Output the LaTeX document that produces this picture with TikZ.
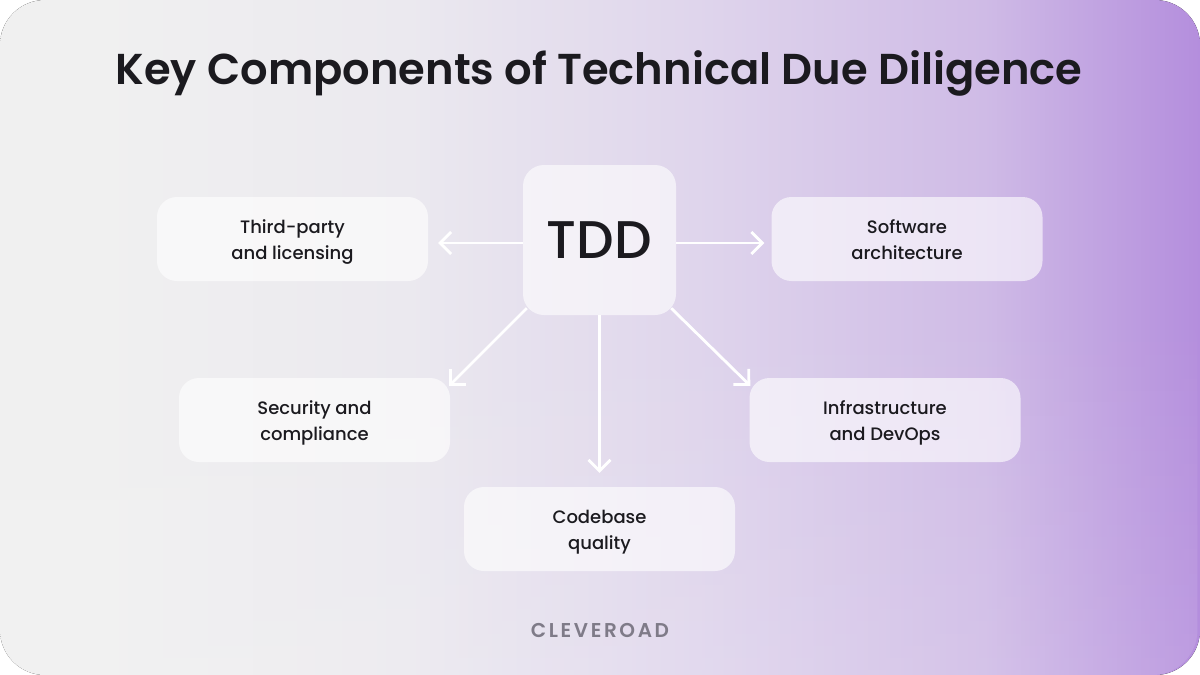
\documentclass[tikz,border=0pt]{standalone}
\usepackage{fontspec}
\setmainfont{Poppins Medium}
\newfontfamily\titlefont{Poppins SemiBold}
\usetikzlibrary{arrows,arrows.meta,calc,fadings}
\definecolor{ink}{HTML}{1B1A1F}
\definecolor{logogray}{HTML}{7F7B88}
\definecolor{s0}{HTML}{F0F0F0}
\definecolor{s1}{HTML}{EBE9EF}
\definecolor{s2}{HTML}{DFD5EC}
\definecolor{s3}{HTML}{CFBBE6}
\definecolor{s4}{HTML}{B48EDD}
\pgfdeclarehorizontalshading{tddfade}{100bp}{
  color(0bp)=(s0); color(29bp)=(s0); color(42bp)=(s1);
  color(54bp)=(s2); color(66bp)=(s3); color(75bp)=(s4); color(100bp)=(s4)}
\newcommand{\twolines}[2]{\raisebox{-6.5pt}[0pt][0pt]{\begin{tabular}{@{}c@{}}#1\\#2\end{tabular}}}
\tikzset{
  panel/.style={draw=none,fill=white,fill opacity=.62,text opacity=1,rounded corners=20pt,
    minimum width=271pt,minimum height=84pt,align=center,text=ink,
    font=\fontsize{18}{26}\selectfont,inner sep=0pt},
  hub/.style={panel,minimum width=153pt,minimum height=150pt,fill opacity=.6,rounded corners=21pt,
    font=\fontsize{53}{60}\selectfont},
  link/.style={draw=white,line width=2.8pt,-{Straight Barb[length=11pt,width=22pt,line width=2.8pt]}}
}
\begin{document}
\begin{tikzpicture}[x=1pt,y=-1pt]

\useasboundingbox (0,0) rectangle (1200,675);
\fill[white] (0,0) rectangle (1200,675);
\fill[rounded corners=45pt,shading=tddfade] (0,0) rectangle (1200,675);
\fill[rounded corners=45pt,white,opacity=.12,path fading=north] (0,300) rectangle (1200,675);

\node[text=ink,font=\titlefont\fontsize{43.2}{50}\selectfont] (title) at (599,73.5) {Key Components of Technical Due Diligence};

\node[hub] (tdd) at (599.5,240) {TDD};
\node[panel] (third) at (292.5,239) {\twolines{Third-party}{and licensing}};
\node[panel] (soft) at (907,239) {\twolines{Software}{architecture}};
\node[panel] (secure) at (314.5,420) {\twolines{Security and}{compliance}};
\node[panel] (infra) at (885,420) {\twolines{Infrastructure}{and DevOps}};
\node[panel] (code) at (599.5,529) {\twolines{Codebase}{quality}};

\node[text=logogray,font=\titlefont\fontsize{20}{20}\selectfont\addfontfeature{LetterSpace=13}] (logo) at (600,630) {CLEVEROAD};

\path ([yshift=-3pt]tdd.west) edge[link,shorten >=10pt] ([yshift=-4pt]third.east)
  ([yshift=-3pt]tdd.east) edge[link,shorten >=7pt] ([yshift=-4pt]soft.west)
  ([xshift=4pt,yshift=7pt]tdd.south west) edge[link] ([xshift=-1pt,yshift=-8pt]secure.north east)
  ([xshift=-5pt,yshift=7pt]tdd.south east) edge[link] ([xshift=1pt,yshift=-8pt]infra.north west)
  (tdd.south) edge[link,shorten >=14pt] (code.north);

\end{tikzpicture}
\end{document}
